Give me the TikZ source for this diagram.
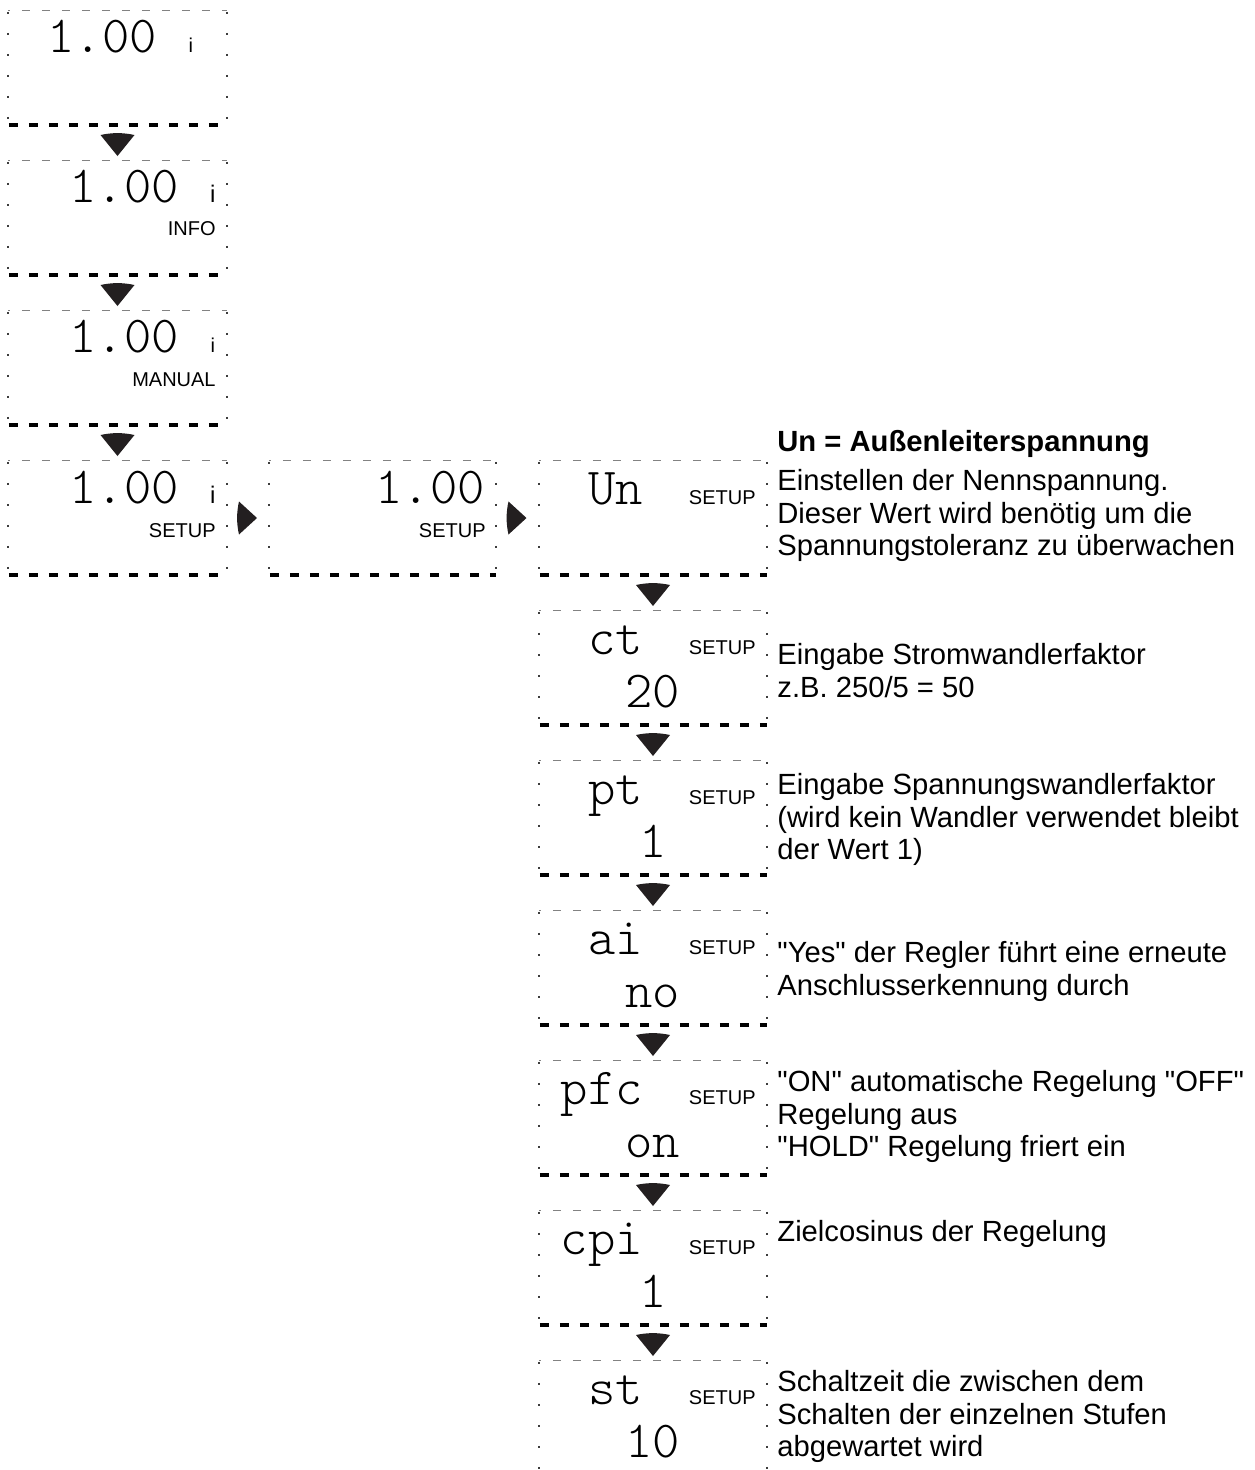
\documentclass[tikz,border=0pt]{standalone}
\usepackage{fontspec}
\setmainfont{Liberation Sans}[Ligatures=TeXOff]
\newfontfamily\lcdfont{Latin Modern Mono Light}
\usetikzlibrary{calc}
\definecolor{tri}{RGB}{35,31,32}
\definecolor{topgray}{RGB}{130,130,130}
\definecolor{sidegray}{RGB}{60,60,60}
\tikzset{
  dispbox/.style={rectangle, inner sep=0pt, minimum width=#1, minimum height=114pt},
  topline/.style={draw=topgray, line width=1.3pt, dash pattern=on 8pt off 12pt, dash phase=-14pt},
  sideline/.style={draw=sidegray, line width=2.2pt, dash pattern=on 2.2pt off 18.8pt, dash phase=-1pt},
  bottomline/.style={draw=black, line width=3.6pt, dash pattern=on 9pt off 11pt, dash phase=-1pt},
  lcd/.style={inner sep=0pt, font=\lcdfont\fontsize{52}{52}\selectfont},
  small/.style={inner sep=0pt, font=\fontsize{20}{20}\selectfont},
  smalli/.style={inner sep=0pt, font=\fontsize{#1}{#1}\selectfont},
  desc/.style={inner sep=0pt, align=left, font=\fontsize{29.2}{32.5}\selectfont},
  downtri/.pic={\fill[tri] (-17,-8) .. controls (-6,-10.5) and (6,-10.5) .. (17,-8) -- (0,13) -- cycle;},
  righttri/.pic={\fill[tri] (-9,-16.5) .. controls (-11.5,-6) and (-11.5,6) .. (-9,16.5) -- (9,0) -- cycle;},
}
\newcommand\boxedges[2][1]{%
  \draw[topline] (#2.north west) -- (#2.north east);
  \draw[sideline] (#2.north west) -- (#2.south west);
  \draw[sideline] (#2.north east) -- (#2.south east);
  \ifnum#1=1 \draw[bottomline] (#2.south west) -- (#2.south east);\fi
}
\begin{document}
\begin{tikzpicture}[x=1pt,y=-1pt]
\useasboundingbox (0,0) rectangle (1255,1470);
% left column
\node[dispbox=219pt] (l1) at (117.5,68) {};
\node[dispbox=219pt] (l2) at (117.5,218) {};
\node[dispbox=219pt] (l3) at (117.5,368) {};
\node[dispbox=219pt] (l4) at (117.5,518) {};
% middle
\node[dispbox=227pt] (m1) at (382.5,518) {};
% right column
\node[dispbox=228pt] (r1) at (653,518) {};
\node[dispbox=228pt] (r2) at (653,668) {};
\node[dispbox=228pt] (r3) at (653,818) {};
\node[dispbox=228pt] (r4) at (653,968) {};
\node[dispbox=228pt] (r5) at (653,1118) {};
\node[dispbox=228pt] (r6) at (653,1268) {};
\node[dispbox=228pt] (r7) at (653,1418) {};
\boxedges{l1}\boxedges{l2}\boxedges{l3}\boxedges{l4}
\boxedges{m1}
\boxedges{r1}\boxedges{r2}\boxedges{r3}\boxedges{r4}\boxedges{r5}\boxedges{r6}
\boxedges[0]{r7}
% connectors
\pic at ($(l1.south)!0.5!(l2.north)$) {downtri};
\pic at ($(l2.south)!0.5!(l3.north)$) {downtri};
\pic at ($(l3.south)!0.5!(l4.north)$) {downtri};
\pic at ($(l4.east)!0.5!(m1.west)$) {righttri};
\pic at ($(m1.east)!0.5!(r1.west)$) {righttri};
\pic at ($(r1.south)!0.5!(r2.north)$) {downtri};
\pic at ($(r2.south)!0.5!(r3.north)$) {downtri};
\pic at ($(r3.south)!0.5!(r4.north)$) {downtri};
\pic at ($(r4.south)!0.5!(r5.north)$) {downtri};
\pic at ($(r5.south)!0.5!(r6.north)$) {downtri};
\pic at ($(r6.south)!0.5!(r7.north)$) {downtri};
% left column texts
\node[lcd, anchor=base east] (l1v) at ($(l1.north west)+(149,42)$) {1.00};
\node[smalli=20, anchor=base] (l1i) at ($(l1.north west)+(183,42)$) {i};
\node[lcd, anchor=base east] (l2v) at ($(l2.north west)+(171,42)$) {1.00};
\node[smalli=24, anchor=base] (l2i) at ($(l2.north west)+(205,42)$) {i};
\node[small, anchor=base east] (l2t) at ($(l2.north west)+(208,75)$) {INFO};
\node[lcd, anchor=base east] (l3v) at ($(l3.north west)+(171,42)$) {1.00};
\node[smalli=20, anchor=base] (l3i) at ($(l3.north west)+(205,42)$) {i};
\node[small, anchor=base east] (l3t) at ($(l3.north west)+(208,76)$) {MANUAL};
\node[lcd, anchor=base east] (l4v) at ($(l4.north west)+(171,43)$) {1.00};
\node[smalli=24, anchor=base] (l4i) at ($(l4.north west)+(205,43)$) {i};
\node[small, anchor=base east] (l4t) at ($(l4.north west)+(208,77)$) {SETUP};
% middle
\node[lcd, anchor=base east] (m1v) at ($(m1.north west)+(216,43)$) {1.00};
\node[small, anchor=base east] (m1t) at ($(m1.north west)+(217,77)$) {SETUP};
% right column texts
\foreach \b/\p/\v in {r1/Un/, r2/ct/20, r3/pt/1, r4/ai/no, r5/pfc/on, r6/cpi/1, r7/st/10}{
  \node[lcd, anchor=base east] (\b p) at ($(\b.north west)+(104,44)$) {\p};
  \node[small, anchor=base east] (\b s) at ($(\b.north west)+(217,44)$) {SETUP};
  \node[lcd, anchor=base] (\b v) at ($(\b.north west)+(114,97)$) {\v};
}
% descriptions (base anchor = baseline of the last line)
\node[desc, anchor=base west, font=\bfseries\fontsize{29.2}{32.5}\selectfont] (d0) at ($(r1.north east)+(10,-9)$) {Un = Außenleiterspannung};
\node[desc, anchor=base west] (d1) at ($(r1.north east)+(10,95)$) {Einstellen der Nennspannung.\\Dieser Wert wird benötig um die\\Spannungstoleranz zu überwachen};
\node[desc, anchor=base west] (d2) at ($(r2.north east)+(10,86.5)$) {Eingabe Stromwandlerfaktor\\z.B. 250/5 = 50};
\node[desc, anchor=base west] (d3) at ($(r3.north east)+(10,99)$) {Eingabe Spannungswandlerfaktor\\(wird kein Wandler verwendet bleibt\\der Wert 1)};
\node[desc, anchor=base west] (d4) at ($(r4.north east)+(10,84.5)$) {"Yes" der Regler führt eine erneute\\Anschlusserkennung durch};
\node[desc, anchor=base west] (d5) at ($(r5.north east)+(10,96)$) {"ON" automatische Regelung "OFF"\\Regelung aus\\"HOLD" Regelung friert ein};
\node[desc, anchor=base west] (d6) at ($(r6.north east)+(10,31)$) {Zielcosinus der Regelung};
\node[desc, anchor=base west] (d7) at ($(r7.north east)+(10,96)$) {Schaltzeit die zwischen dem\\Schalten der einzelnen Stufen\\abgewartet wird};
\end{tikzpicture}
\end{document}
